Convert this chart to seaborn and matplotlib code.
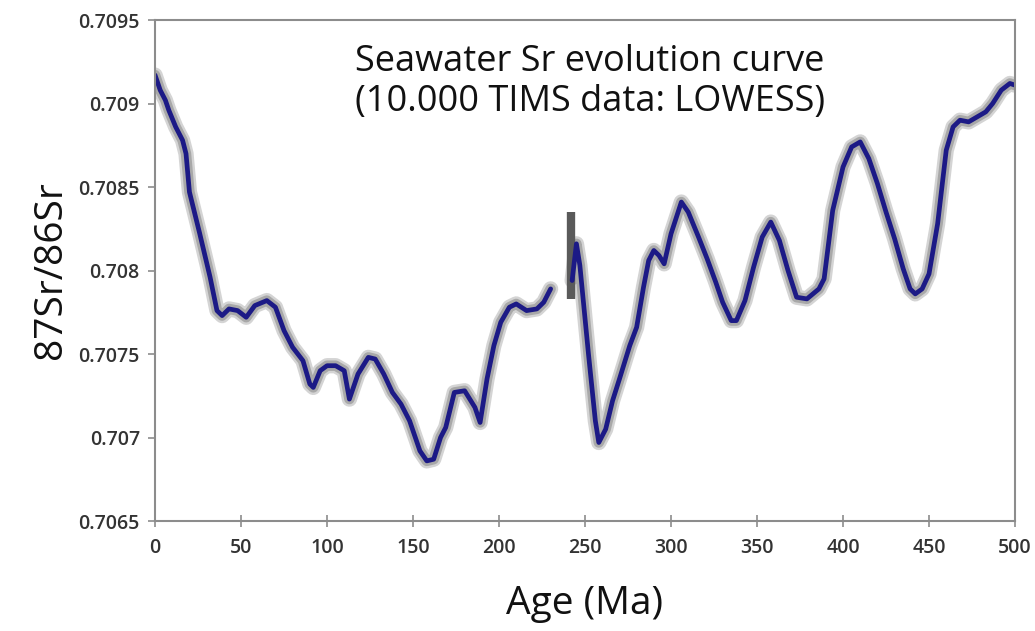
import matplotlib
matplotlib.use("Agg")
import matplotlib.pyplot as plt
import seaborn as sns
import pandas as pd

# ---- data ----
seg1_age = [0, 3, 6, 8, 12, 16, 18, 20, 26, 32, 36, 39, 43, 48, 53, 58, 65, 70, 75, 80,
            86, 90, 92, 96, 100, 105, 110, 113, 118, 124, 128, 133, 138, 143, 148, 154,
            158, 162, 166, 169, 174, 180, 186, 189, 193, 197, 201, 206, 210, 216, 222,
            226, 230]
seg1_val = [0.70917, 0.70908, 0.70902, 0.70896, 0.70886, 0.70878, 0.70870, 0.70847,
            0.70822, 0.70796, 0.70776, 0.70773, 0.70777, 0.70776, 0.70772, 0.70779,
            0.70782, 0.70778, 0.70764, 0.70754, 0.70746, 0.70732, 0.70730, 0.70740,
            0.70743, 0.70743, 0.70740, 0.70723, 0.70738, 0.70748, 0.70747, 0.70738,
            0.70727, 0.70720, 0.70710, 0.70692, 0.70686, 0.70687, 0.70700, 0.70706,
            0.70727, 0.70728, 0.70718, 0.70709, 0.70735, 0.70755, 0.70769, 0.70778,
            0.70780, 0.70776, 0.70777, 0.70781, 0.70789]

seg2_age = [242.5, 245, 247, 252, 256, 258, 262, 266, 270, 276, 280, 284, 287, 290, 293,
            296, 300, 306, 310, 316, 321, 326, 330, 335, 338, 343, 348, 353, 358, 363,
            368, 373, 379, 386, 389, 394, 400, 405, 410, 415, 420, 425, 430, 435, 439,
            442, 446, 450, 455, 460, 464, 468, 473, 478, 483, 487, 492, 497, 500]
seg2_val = [0.70794, 0.70816, 0.70803, 0.70750, 0.70710, 0.70697, 0.70705, 0.70722,
            0.70735, 0.70755, 0.70766, 0.70790, 0.70806, 0.70812, 0.70809, 0.70804,
            0.70822, 0.70841, 0.70835, 0.70820, 0.70807, 0.70793, 0.70781, 0.70770,
            0.70770, 0.70782, 0.70802, 0.70820, 0.70829, 0.70818, 0.70800, 0.70784,
            0.70783, 0.70789, 0.70795, 0.70836, 0.70862, 0.70874, 0.70877, 0.70867,
            0.70852, 0.70835, 0.70819, 0.70801, 0.70789, 0.70786, 0.70789, 0.70798,
            0.70828, 0.70872, 0.70886, 0.70890, 0.70889, 0.70892, 0.70895, 0.70900,
            0.70908, 0.70912, 0.70911]

# dark uncertainty blotch at the Permian-Triassic gap
gap_age = [242.0, 242.0]
gap_val = [0.70835, 0.70783]

x_ticks = [0, 50, 100, 150, 200, 250, 300, 350, 400, 450, 500]
y_ticks = [0.7065, 0.7070, 0.7075, 0.7080, 0.7085, 0.7090, 0.7095]
y_tick_labels = ["0.7065", "0.707", "0.7075", "0.708", "0.7085", "0.709", "0.7095"]

title_text = "Seawater Sr evolution curve\n(10.000 TIMS data: LOWESS)"

# ---- plot ----
sns.set_style("white")
plt.rcParams["font.family"] = ["Open Sans", "DejaVu Sans"]

fig = plt.figure(figsize=(10.35, 6.31), dpi=100)
ax = fig.add_axes([0.1498, 0.1743, 0.8309, 0.7940])

df1 = pd.DataFrame({"age": seg1_age, "sr": seg1_val})
df2 = pd.DataFrame({"age": seg2_age, "sr": seg2_val})

for df in (df1, df2):
    # soft grey halo (confidence envelope look)
    sns.lineplot(data=df, x="age", y="sr", ax=ax, estimator=None, sort=False,
                 color="#d4d4d4", linewidth=11, solid_capstyle="round",
                 solid_joinstyle="round")
    sns.lineplot(data=df, x="age", y="sr", ax=ax, estimator=None, sort=False,
                 color="#a8a8a8", linewidth=7.5, solid_capstyle="round",
                 solid_joinstyle="round")

ax.plot(gap_age, gap_val, color="#5a5a5a", linewidth=6, solid_capstyle="butt")

for df in (df1, df2):
    sns.lineplot(data=df, x="age", y="sr", ax=ax, estimator=None, sort=False,
                 color="#1c1a86", linewidth=3.4, solid_capstyle="round",
                 solid_joinstyle="round")

ax.set_xlim(0, 500)
ax.set_ylim(0.7065, 0.7095)
ax.set_xticks(x_ticks)
ax.set_xticklabels([str(t) for t in x_ticks])
ax.set_yticks(y_ticks)
ax.set_yticklabels(y_tick_labels)

for s in ax.spines.values():
    s.set_visible(True)
    s.set_color("#8c8c8c")
    s.set_linewidth(1.5)

ax.tick_params(axis="x", direction="inout", length=8, width=1.2, color="#8c8c8c",
               labelsize=14, pad=8, bottom=True)
ax.tick_params(axis="y", direction="out", length=5, width=1.2, color="#8c8c8c",
               labelsize=14, pad=6, left=True)
for lab in ax.get_xticklabels() + ax.get_yticklabels():
    lab.set_fontweight("semibold")
    lab.set_color("#333333")

ax.set_xlabel("Age (Ma)", fontsize=28, labelpad=20, color="#111111")
ax.set_ylabel("87Sr/86Sr", fontsize=28, labelpad=6, color="#111111")

ax.text(0.2326, 0.952, title_text, transform=ax.transAxes, ha="left", va="top",
        fontsize=26, linespacing=1.15, color="#111111")

fig.savefig("out.png", dpi=100)
